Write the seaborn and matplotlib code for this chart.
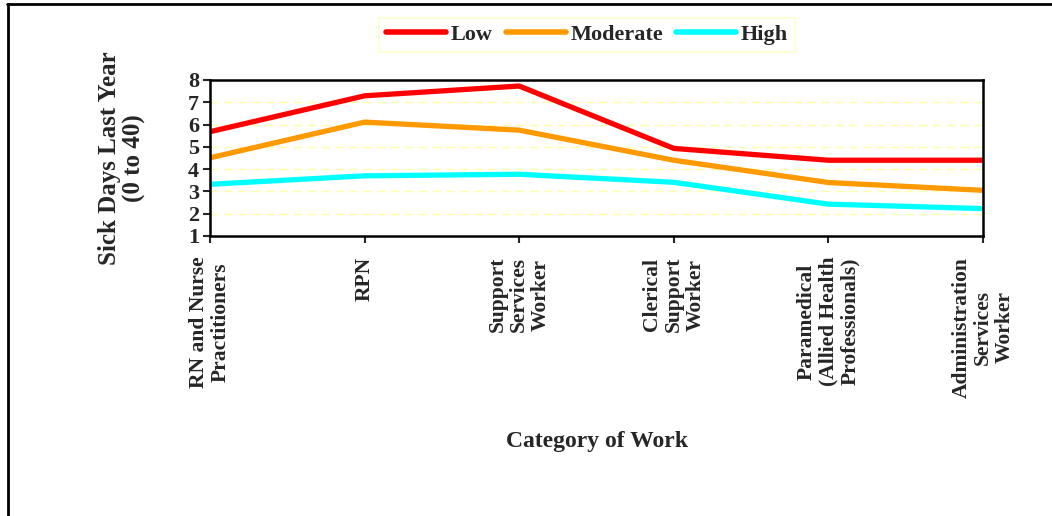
import matplotlib.pyplot as plt
import matplotlib.lines as mlines
import seaborn as sns
import pandas as pd

categories = ['RN and Nurse\nPractitioners', 'RPN', 'Support\nServices\nWorker',
              'Clerical\nSupport\nWorker', 'Paramedical\n(Allied Health\nProfessionals)',
              'Administration\nServices\nWorker']
low = [5.68, 7.29, 7.73, 4.93, 4.40, 4.40]
moderate = [4.51, 6.11, 5.75, 4.40, 3.40, 3.05]
high = [3.32, 3.70, 3.77, 3.41, 2.43, 2.23]
levels = ['Low', 'Moderate', 'High']
colors = ['#FF0000', '#FF9900', '#00FFFF']

df = pd.DataFrame({
    'category': categories * 3,
    'days': low + moderate + high,
    'level': [lv for lv in levels for _ in categories],
})

sns.set_style('white')
plt.rcParams['font.family'] = ['Liberation Serif', 'DejaVu Serif']
plt.rcParams['font.weight'] = 'bold'

fig = plt.figure(figsize=(10.52, 5.16), dpi=100)
ax = fig.add_axes([210 / 1052, 1 - 236 / 516, 773 / 1052, 156 / 516])

sns.lineplot(data=df, x='category', y='days', hue='level', palette=colors,
             hue_order=levels, sort=False, linewidth=3.8, ax=ax, legend=False,
             solid_capstyle='round')

ax.set_xlim(0, len(categories) - 1)
ax.set_ylim(1, 8)
ax.set_yticks(range(1, 9))
ax.set_xticks(range(len(categories)))
ax.set_xticklabels(categories, rotation=90, va='top', ha='center',
                   multialignment='center', fontsize=15.5, fontweight='bold',
                   linespacing=1.1)
ax.tick_params(axis='y', labelsize=16, length=5, width=1.5, direction='out', left=True, pad=3)
ax.tick_params(axis='x', length=5, width=1.5, direction='out', bottom=True, pad=10)
for t in ax.get_yticklabels():
    t.set_fontweight('bold')

for y in range(2, 8):
    ax.axhline(y, color='#FFFFAA', linestyle=(0, (6, 4)), linewidth=1, zorder=0)

for s in ax.spines.values():
    s.set_color('black')
    s.set_linewidth(1.8)

ax.set_xlabel('Category of Work', fontsize=17, fontweight='bold', labelpad=24)
ax.set_ylabel('Sick Days Last Year\n(0 to 40)', fontsize=18, fontweight='bold',
              labelpad=30, linespacing=1.1)

handles = [mlines.Line2D([], [], color=c, linewidth=4, solid_capstyle='round') for c in colors]
leg = fig.legend(handles, levels, loc='center', bbox_to_anchor=(587 / 1052, 1 - 35 / 516),
                 ncol=3, frameon=True, fancybox=False, edgecolor='#FFFFCC',
                 prop={'size': 16, 'weight': 'bold'}, handlelength=2.7,
                 handletextpad=0.2, columnspacing=0.6, borderpad=0.3)
leg.get_frame().set_linewidth(1.5)

# outer frame (top and left edges only are visible in the reference)
fig.add_artist(mlines.Line2D([7 / 1052, 1], [1 - 4 / 516, 1 - 4 / 516],
                             transform=fig.transFigure, color='black', linewidth=2))
fig.add_artist(mlines.Line2D([8 / 1052, 8 / 1052], [0, 1 - 4 / 516],
                             transform=fig.transFigure, color='black', linewidth=2))

fig.savefig('out.png', dpi=100)
